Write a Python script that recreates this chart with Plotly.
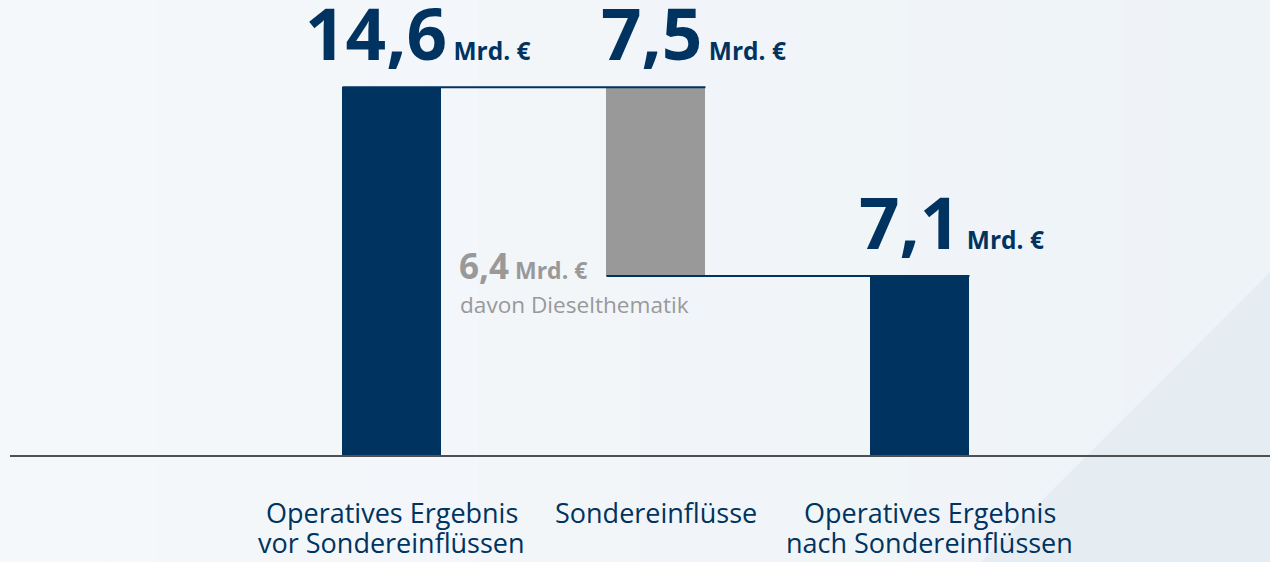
import plotly.graph_objects as go

# ---- data ----
categories = ["Operatives Ergebnis<br>vor Sondereinflüssen",
              "Sondereinflüsse",
              "Operatives Ergebnis<br>nach Sondereinflüssen"]
values = [14.6, -7.5, 7.1]          # start, change, result (Mrd. €)
measures = ["absolute", "relative", "total"]
unit = "Mrd. €"
diesel_value = 6.4
diesel_text = "davon Dieselthematik"

# ---- styles ----
NAVY = "#00335f"
GREY = "#999999"
FONT = "Open Sans"
BAR_W = 0.375

# derive bar bases / heights from the data
bases, heights, running = [], [], 0.0
for v, m in zip(values, measures):
    if m == "absolute":
        bases.append(0.0); heights.append(v); running = v
    elif m == "relative":
        new = running + v
        bases.append(min(running, new)); heights.append(abs(v)); running = new
    else:
        bases.append(0.0); heights.append(running)
tops = [b + h for b, h in zip(bases, heights)]
colors = [NAVY if m != "relative" else GREY for m in measures]
xs = list(range(len(categories)))

def fmt(v):
    return f"{abs(v):.1f}".replace(".", ",")

fig = go.Figure()
fig.add_trace(go.Bar(x=xs, y=heights, base=bases, width=BAR_W,
                     marker=dict(color=colors, line=dict(width=0)),
                     hoverinfo="skip", showlegend=False))

# connectors
fig.add_trace(go.Scatter(x=[xs[0] - BAR_W / 2, xs[1] + BAR_W / 2], y=[tops[0], tops[0]],
                         mode="lines", line=dict(color=NAVY, width=2),
                         hoverinfo="skip", showlegend=False))
fig.add_trace(go.Scatter(x=[xs[1] - BAR_W / 2, xs[2] + BAR_W / 2], y=[bases[1], bases[1]],
                         mode="lines", line=dict(color=NAVY, width=2),
                         hoverinfo="skip", showlegend=False))

annotations = []
# value labels
label_xshift = [-88, -56, -62]
for i, v in enumerate(values):
    annotations.append(dict(
        x=xs[i], y=tops[i], xref="x", yref="y", xanchor="left", yanchor="bottom",
        xshift=label_xshift[i], yshift=5, borderpad=0, showarrow=False,
        text=f"<b>{fmt(v)}</b><span style='font-size:24.5px'><b> {unit}</b></span>",
        font=dict(family=FONT, size=71, color=NAVY)))

# diesel sub-label
annotations.append(dict(
    x=xs[1], y=bases[1], xref="x", yref="y", xanchor="left", yanchor="bottom",
    xshift=-198, yshift=-14, borderpad=0, showarrow=False,
    text=f"<b>{fmt(diesel_value)}</b><span style='font-size:23px'><b> {unit}</b></span>",
    font=dict(family=FONT, size=35, color=GREY)))
annotations.append(dict(
    x=xs[1], y=bases[1], xref="x", yref="y", xanchor="left", yanchor="bottom",
    xshift=-197, yshift=-45, borderpad=0, showarrow=False,
    text=diesel_text, font=dict(family=FONT, size=22.6, color=GREY)))

# category labels (one annotation per line for tight line spacing)
cat_xshift = [0, 0, 10]
for i, c in enumerate(categories):
    for j, line in enumerate(c.split("<br>")):
        annotations.append(dict(
            x=xs[i], y=0, xref="x", yref="paper", xanchor="center", yanchor="top",
            xshift=cat_xshift[i], yshift=-38 - 30 * j, borderpad=0, showarrow=False,
            text=line, font=dict(family=FONT, size=27, color=NAVY)))

# subtle background gradient (left lighter) built from thin strips
shapes = []
n_strips = 24
c0 = (245, 248, 251)
c1 = (238, 243, 247)
for k in range(n_strips):
    t = k / (n_strips - 1)
    col = tuple(round(a + (b - a) * t) for a, b in zip(c0, c1))
    shapes.append(dict(type="rect", xref="paper", yref="paper",
                       x0=-0.01 + k * (1.02 / n_strips), x1=-0.01 + (k + 1) * (1.02 / n_strips),
                       y0=-0.24, y1=1.0, fillcolor="rgb(%d,%d,%d)" % col,
                       line=dict(width=0), layer="below"))
shapes.append(dict(type="path", xref="paper", yref="paper",
                   path="M 1.0 0.402 L 1.0 -0.236 L 0.77 -0.236 Z",
                   fillcolor="#e5edf3", line=dict(width=0), layer="below"))

fig.update_layout(
    width=1270, height=562,
    margin=dict(l=10, r=0, t=0, b=107),
    paper_bgcolor="#eff3f7", plot_bgcolor="rgba(0,0,0,0)",
    xaxis=dict(range=[-1.447, 3.326], showgrid=False, zeroline=False,
               showticklabels=False, ticks="", showline=True,
               linecolor="#505050", linewidth=2),
    yaxis=dict(range=[0, 18.06], visible=False, showgrid=False, zeroline=False),
    annotations=annotations, shapes=shapes,
    bargap=0, font=dict(family=FONT),
)

fig.write_html("out.html", config={"displayModeBar": False},
               post_script="document.body.style.margin='0';document.body.style.padding='0';"
                           "document.body.style.overflow='hidden';")
